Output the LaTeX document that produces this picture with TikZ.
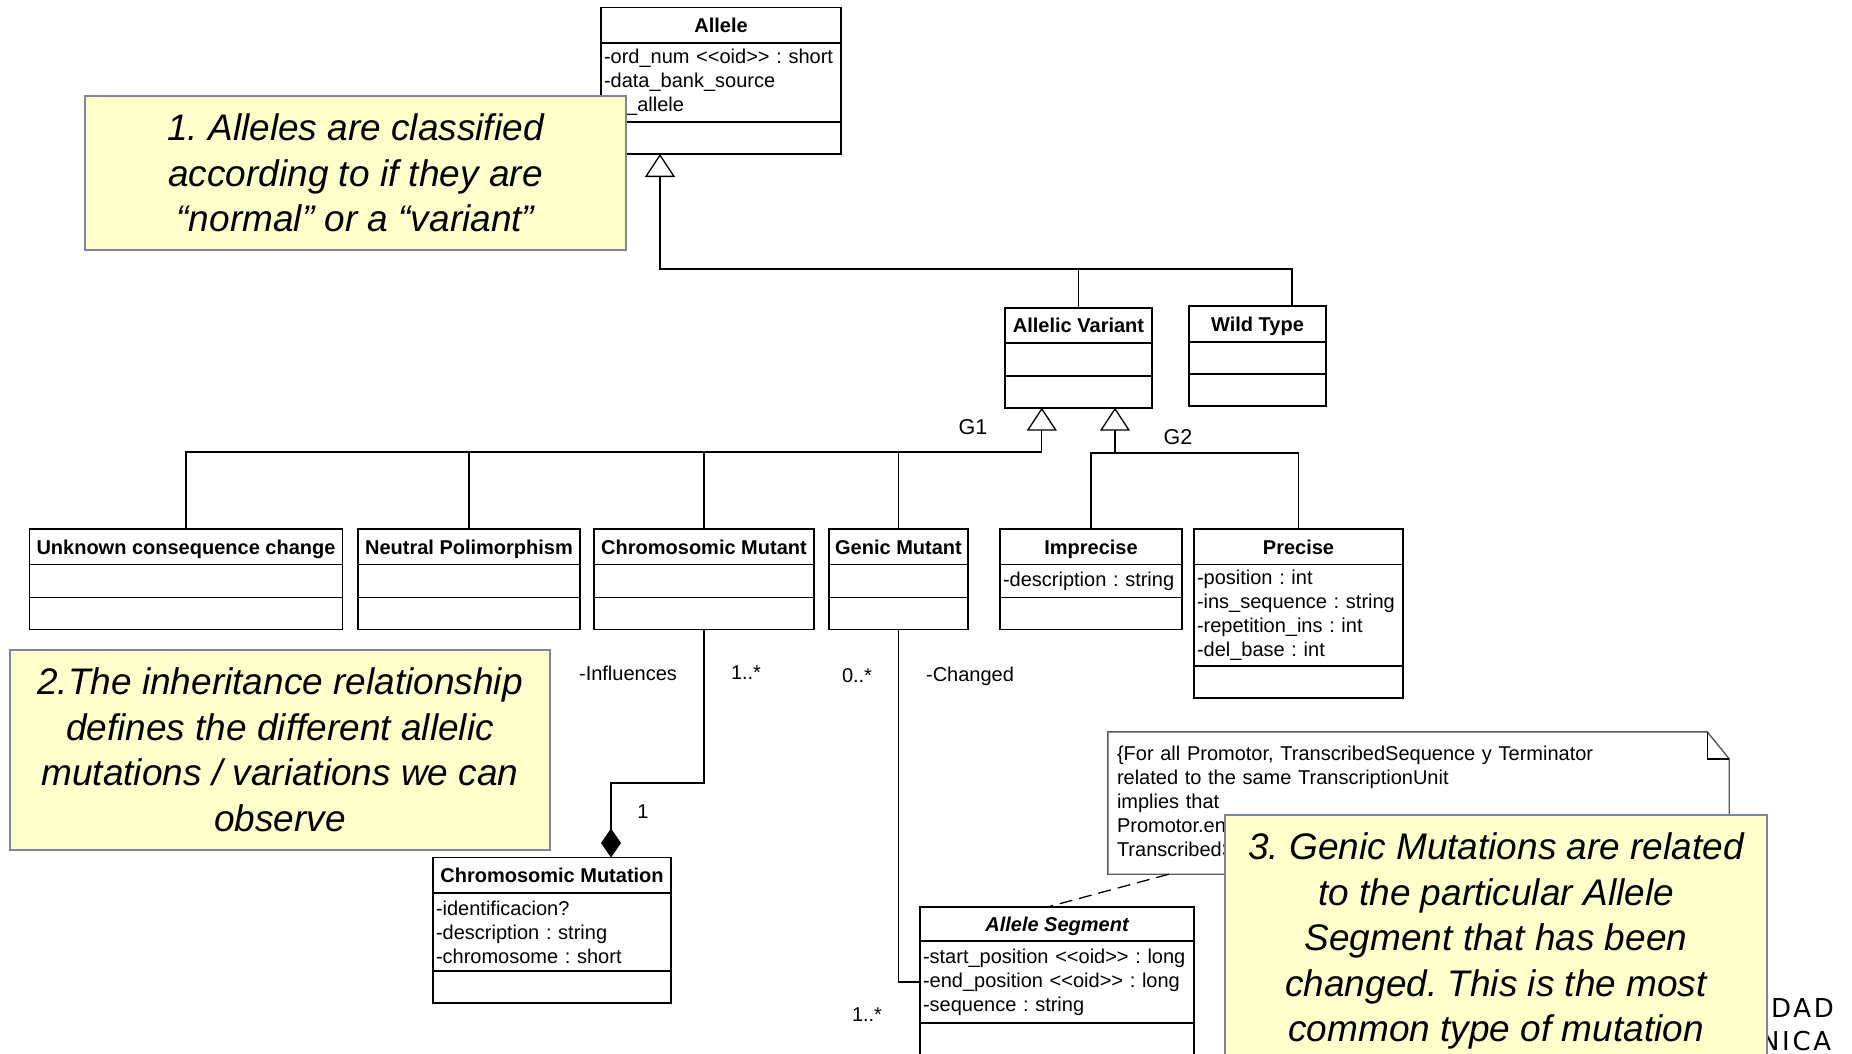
\documentclass[tikz,border=0pt]{standalone}
\usepackage{fontspec}
\setmainfont{Liberation Sans}
\newfontfamily\logofont[LetterSpace=10]{DejaVu Sans}
\usepackage{tikz}
\usetikzlibrary{positioning,arrows.meta}
\frenchspacing

\definecolor{memofill}{RGB}{255,255,204}
\definecolor{memoline}{RGB}{128,133,148}
\definecolor{consline}{RGB}{90,90,90}

\begin{document}
\begin{tikzpicture}[x=1pt, y=-1pt, node distance=0pt,
    cls/.style={draw, line width=1.8pt, inner sep=0pt, outer sep=0pt},
    hd/.style={cls, text height=14.5pt, text depth=0pt, font=\fontsize{20}{24}\selectfont\bfseries},
    bd/.style={cls, inner xsep=3pt, align=left, font=\fontsize{20}{24}\selectfont},
    lbl/.style={font=\fontsize{20}{24}\selectfont},
    memo/.style={draw=memoline, line width=2.4pt, fill=memofill, align=center,
                 font=\fontsize{37}{45.5}\selectfont\itshape},
    gen/.style={line width=1.3pt, -{Triangle[open,width=30pt,length=23pt]}},
    comp/.style={line width=1.3pt, -{Diamond[width=20pt,length=29pt]}},
    conn/.style={line width=1.3pt}]
    \useasboundingbox (0,0) rectangle (1852,1053);

    \node [hd, minimum width=240pt, minimum height=35.5pt, anchor=north] (allele) at (721,7.5) {Allele};
    \node [bd, text width=234pt, minimum height=79pt] (allele-a) [below=of allele] {-ord\_num <{}<oid>{}> : short\\-data\_bank\_source\\-id\_allele};
    \node [bd, text width=234pt, minimum height=32pt] (allele-m) [below=of allele-a] {};

    \node [hd, minimum width=147pt, minimum height=35.3pt, anchor=north] (av) at (1078.5,307.7) {Allelic Variant};
    \node [bd, text width=141pt, minimum height=33pt] (av-a) [below=of av] {};
    \node [bd, text width=141pt, minimum height=31.7pt] (av-m) [below=of av-a] {};

    \node [hd, minimum width=137pt, minimum height=36.3pt, anchor=north] (wild) at (1257.5,305.7) {Wild Type};
    \node [bd, text width=131pt, minimum height=32pt] (wild-a) [below=of wild] {};
    \node [bd, text width=131pt, minimum height=32pt] (wild-m) [below=of wild-a] {};

    \node [hd, minimum width=313pt, minimum height=35.5pt, anchor=north] (unk) at (186,529) {Unknown consequence change};
    \node [bd, text width=307pt, minimum height=33pt] (unk-a) [below=of unk] {};
    \node [bd, text width=307pt, minimum height=32pt] (unk-m) [below=of unk-a] {};

    \node [hd, minimum width=222pt, minimum height=35.5pt, anchor=north] (neu) at (469,529) {Neutral Polimorphism};
    \node [bd, text width=216pt, minimum height=33pt] (neu-a) [below=of neu] {};
    \node [bd, text width=216pt, minimum height=32pt] (neu-m) [below=of neu-a] {};

    \node [hd, minimum width=220pt, minimum height=35.5pt, anchor=north] (chm) at (704,529) {Chromosomic Mutant};
    \node [bd, text width=214pt, minimum height=33pt] (chm-a) [below=of chm] {};
    \node [bd, text width=214pt, minimum height=32pt] (chm-m) [below=of chm-a] {};

    \node [hd, minimum width=139pt, minimum height=35.5pt, anchor=north] (gen) at (898.5,529) {Genic Mutant};
    \node [bd, text width=133pt, minimum height=33pt] (gen-a) [below=of gen] {};
    \node [bd, text width=133pt, minimum height=32pt] (gen-m) [below=of gen-a] {};

    \node [hd, minimum width=182pt, minimum height=35.5pt, anchor=north] (imp) at (1091,529) {Imprecise};
    \node [bd, text width=176pt, minimum height=33pt] (imp-a) [below=of imp] {-description : string};
    \node [bd, text width=176pt, minimum height=32pt] (imp-m) [below=of imp-a] {};

    \node [hd, minimum width=209pt, minimum height=35.5pt, anchor=north] (pre) at (1298.5,529) {Precise};
    \node [bd, text width=203pt, minimum height=101.5pt] (pre-a) [below=of pre] {-position : int\\-ins\_sequence : string\\-repetition\_ins : int\\-del\_base : int};
    \node [bd, text width=203pt, minimum height=32pt] (pre-m) [below=of pre-a] {};

    \node [hd, minimum width=238pt, minimum height=35.5pt, anchor=north] (chmut) at (552,857.5) {Chromosomic Mutation};
    \node [bd, text width=232pt, minimum height=78pt] (chmut-a) [below=of chmut] {-identificacion?\\-description : string\\-chromosome : short};
    \node [bd, text width=232pt, minimum height=32pt] (chmut-m) [below=of chmut-a] {};

    \node [hd, minimum width=274pt, minimum height=34pt, anchor=north, font=\fontsize{20}{24}\selectfont\bfseries\itshape] (seg) at (1057,907) {Allele Segment};
    \node [bd, text width=268pt, minimum height=82pt] (seg-a) [below=of seg] {-start\_position <{}<oid>{}> : long\\-end\_position <{}<oid>{}> : long\\-sequence : string};
    \node [bd, text width=268pt, minimum height=40pt] (seg-m) [below=of seg-a] {};

    % generalisations
    \coordinate (a-tip) at ([xshift=-61pt]allele-m.south);
    \coordinate (bus) at (a-tip |- 0,269);
    \draw [gen] ([xshift=34.5pt]wild.north) |- (bus) -- (a-tip);
    \draw [conn] (av.north) -- (av.north |- bus);

    \coordinate (g1-tip) at ([xshift=-36.7pt]av-m.south);
    \coordinate (g1) at (g1-tip |- 0,452);
    \draw [gen] (unk.north) |- (g1) -- (g1-tip);
    \foreach \c in {neu,chm,gen}
        \draw [conn] (\c.north) -- (\c.north |- g1);

    \coordinate (g2-tip) at ([xshift=36.5pt]av-m.south);
    \coordinate (g2) at (g2-tip |- 0,453);
    \draw [gen] (imp.north) |- (g2) -- (g2-tip);
    \draw [conn] (pre.north) |- (g2);

    \node [lbl, font=\fontsize{21.5}{24}\selectfont] (g1-lbl) at (973,427) {G1};
    \node [lbl, font=\fontsize{21.5}{24}\selectfont] (g2-lbl) at (1178,437) {G2};

    % associations
    \coordinate (cm-top) at ([xshift=59pt]chmut.north);
    \coordinate (cm-bend) at (cm-top |- 0,783);
    \draw [comp] (chm-m.south) |- (cm-bend) -- (cm-top);
    \draw [conn] (gen-m.south) |- (seg-a.west);

    \node [lbl] (infl) at (628,673) {-Influences};
    \node [lbl] (infl-m) at (746,673) {1..*};
    \node [lbl] (chg-m) at (857,676) {0..*};
    \node [lbl] (chg) at (970,676) {-Changed};
    \node [lbl] (one) at (643,812) {1};
    \node [lbl] (seg-mult) at (867,1014.5) {1..*};

    % constraint note
    \node [lbl, align=left, text width=603pt, inner xsep=9pt, minimum height=142pt] (cons) at (1418.5,803)
        {\{For all Promotor, TranscribedSequence y Terminator\\related to the same TranscriptionUnit\\implies that\\Promotor.end\\TranscribedSequence};
    \draw [line width=1.4pt, draw=consline] (cons.north west) -- ([xshift=-22pt]cons.north east)
        -- ([yshift=-27pt]cons.north east) -- (cons.south east) -- (cons.south west) -- cycle;
    \draw [line width=1.4pt] ([xshift=-22pt]cons.north east) |- ([yshift=-27pt]cons.north east);
    \draw [conn, dash pattern=on 13pt off 7pt] ([xshift=61pt]cons.south west) -- ([xshift=-9.5pt]seg.north);

    \node [font=\logofont\fontsize{26}{30}\selectfont, anchor=base west, inner sep=0pt] (logo1) at (1771,1017) {DAD};
    \node [font=\logofont\fontsize{26}{30}\selectfont, anchor=base west, inner sep=0pt] (logo2) at (1760,1050) {NICA};

    % comments
    \node [memo, minimum width=541pt, minimum height=154.5pt] (memo1) at (355.5,173)
        {1. Alleles are classified\\according to if they are\\“normal” or a “variant”};
    \node [memo, minimum width=540.5pt, minimum height=200.5pt] (memo2) at (280,750)
        {2.The inheritance relationship\\defines the different allelic\\mutations / variations we can\\observe};
    \node [memo, minimum width=542pt, minimum height=252pt] (memo3) at (1496,941)
        {3. Genic Mutations are related\\to the particular Allele\\Segment that has been\\changed. This is the most\\common type of mutation};
\end{tikzpicture}
\end{document}
